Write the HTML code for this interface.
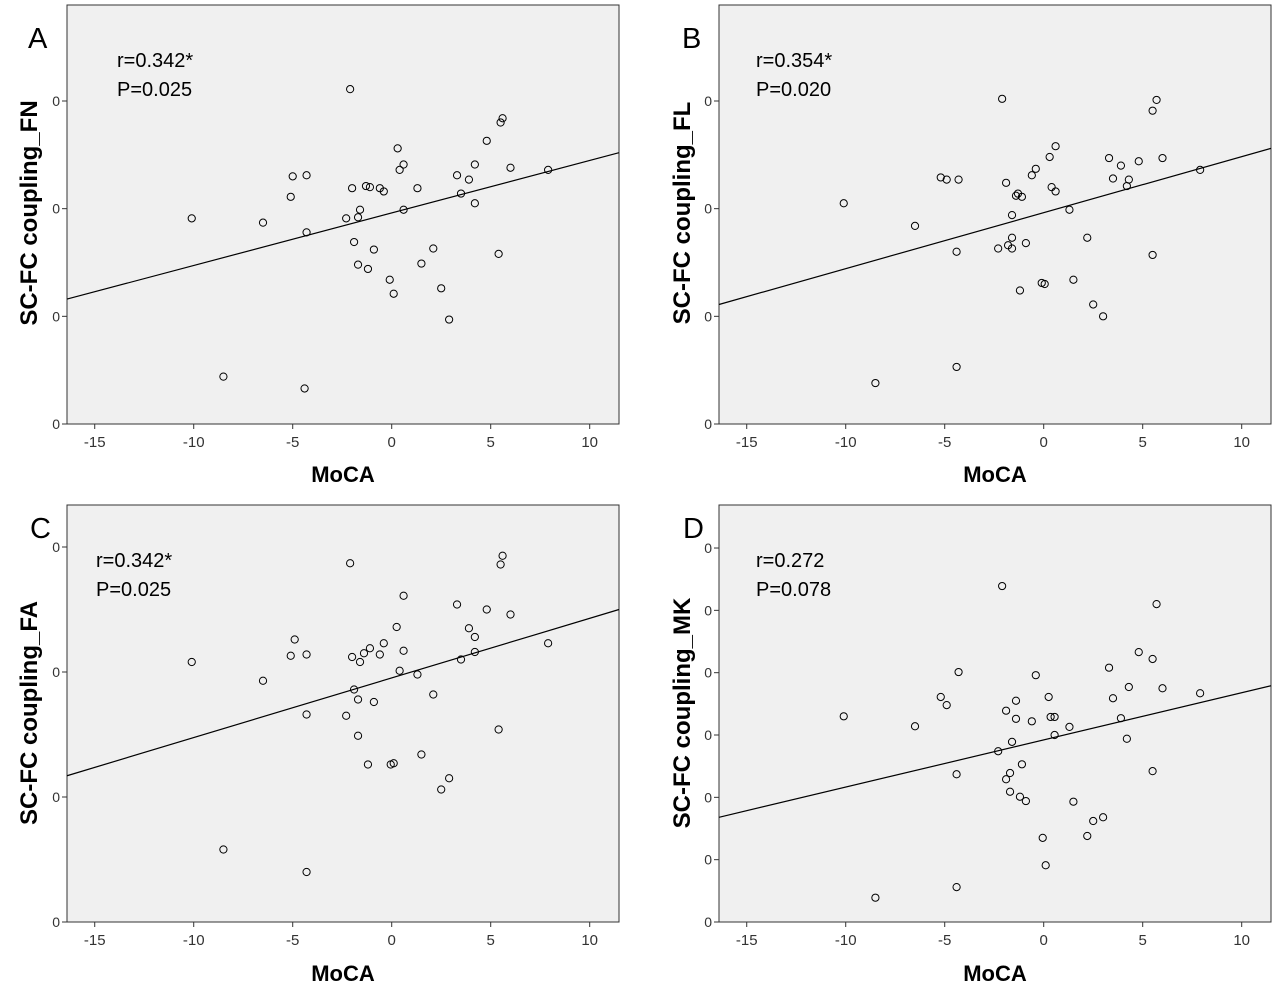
<!DOCTYPE html>
<html><head><meta charset="utf-8"><style>
html,body{margin:0;padding:0;background:#fff;}
svg{display:block;font-family:"Liberation Sans",sans-serif;}
</style></head><body>
<svg id="chart" width="1278" height="1000" viewBox="0 0 1278 1000"></svg>
<script>
// Panel A
const xA=[-2.1,-10.1,-8.5,-6.5,-5.1,-5.0,-4.3,-4.3,-4.4,-2.3,-2.0,-1.7,-1.6,-1.3,-1.1,-1.9,-1.7,-1.2,-0.9,-0.6,-0.4,-0.1,0.1,0.3,0.4,0.6,0.6,1.3,1.5,2.1,2.5,2.9,3.3,3.5,3.9,4.2,4.2,4.8,5.4,5.5,5.6,6.0,7.9];
const yA=[3.11,1.91,0.44,1.87,2.11,2.30,2.31,1.78,0.33,1.91,2.19,1.92,1.99,2.21,2.20,1.69,1.48,1.44,1.62,2.19,2.16,1.34,1.21,2.56,2.36,2.41,1.99,2.19,1.49,1.63,1.26,0.97,2.31,2.14,2.27,2.41,2.05,2.63,1.58,2.80,2.84,2.38,2.36];
const fitA=[1.16,2.52];
// Panel B
const xB=[-10.1,-8.5,-6.5,-5.2,-4.9,-4.3,-4.4,-4.4,-2.3,-2.1,-1.9,-1.8,-1.6,-1.6,-1.6,-1.4,-1.3,-1.1,-1.2,-0.9,-0.6,-0.4,-0.1,0.05,0.3,0.4,0.6,0.6,1.3,1.5,2.2,2.5,3.0,3.3,3.5,3.9,4.2,4.3,4.8,5.5,5.5,5.7,6.0,7.9];
const yB=[2.05,0.38,1.84,2.29,2.27,2.27,1.60,0.53,1.63,3.02,2.24,1.66,1.73,1.94,1.63,2.12,2.14,2.11,1.24,1.68,2.31,2.37,1.31,1.30,2.48,2.20,2.16,2.58,1.99,1.34,1.73,1.11,1.00,2.47,2.28,2.40,2.21,2.27,2.44,1.57,2.91,3.01,2.47,2.36];
const fitB=[1.11,2.56];
// Panel C
const xC=[-10.1,-8.5,-6.5,-5.1,-4.9,-4.3,-4.3,-4.3,-2.3,-2.1,-2.0,-1.9,-1.7,-1.7,-1.6,-1.4,-1.2,-1.1,-0.9,-0.6,-0.4,-0.05,0.1,0.25,0.4,0.6,0.6,1.3,1.5,2.1,2.5,2.9,3.3,3.5,3.9,4.2,4.2,4.8,5.4,5.5,5.6,6.0,7.9];
const yC=[2.08,0.58,1.93,2.13,2.26,2.14,1.66,0.40,1.65,2.87,2.12,1.86,1.78,1.49,2.08,2.15,1.26,2.19,1.76,2.14,2.23,1.26,1.27,2.36,2.01,2.61,2.17,1.98,1.34,1.82,1.06,1.15,2.54,2.10,2.35,2.28,2.16,2.50,1.54,2.86,2.93,2.46,2.23];
const fitC=[1.17,2.50];
// Panel D
const xD=[-10.1,-8.5,-6.5,-5.2,-4.9,-4.3,-4.4,-4.4,-2.3,-2.1,-1.9,-1.9,-1.7,-1.6,-1.7,-1.4,-1.4,-1.1,-1.2,-0.9,-0.6,-0.4,-0.05,0.1,0.25,0.35,0.55,0.55,1.3,1.5,2.2,2.5,3.0,3.3,3.5,3.9,4.2,4.3,4.8,5.5,5.5,5.7,6.0,7.9];
const yD=[3.30,0.39,3.14,3.61,3.48,4.01,2.37,0.56,2.74,5.39,3.39,2.29,2.39,2.89,2.09,3.55,3.26,2.53,2.01,1.94,3.22,3.96,1.35,0.91,3.61,3.29,3.29,3.00,3.13,1.93,1.38,1.62,1.68,4.08,3.59,3.27,2.94,3.77,4.33,2.42,4.22,5.10,3.75,3.67];
const fitD=[1.68,3.79];
const xTicks=[-15,-10,-5,0,5,10];
const yTickLabelA=["0","0","0","0"];
const yTickLabelD=["0","0","0","0","0","0","0"];
const xMin=-16.4, xMax=11.48;

const NS="http://www.w3.org/2000/svg";
const svg=document.getElementById('chart');
function mk(tag,attrs,parent){const e=document.createElementNS(NS,tag);for(const k in attrs)e.setAttribute(k,attrs[k]);(parent||svg).appendChild(e);return e;}

const panels=[
 {id:'a',letter:'A',L:67,R:619,T:5,B:424,yStep:107.67,yLab:yTickLabelA,xs:xA,ys:yA,fit:fitA,title:'SC-FC coupling_FN',r:'r=0.342*',p:'P=0.025',tx:117,ty:67,lx:28,ly:48,titleX:37,titleY:213,moY:482},
 {id:'b',letter:'B',L:719,R:1271,T:5,B:424,yStep:107.67,yLab:yTickLabelA,xs:xB,ys:yB,fit:fitB,title:'SC-FC coupling_FL',r:'r=0.354*',p:'P=0.020',tx:756,ty:67,lx:682,ly:48,titleX:690,titleY:213,moY:482},
 {id:'c',letter:'C',L:67,R:619,T:505,B:922,yStep:125,yLab:yTickLabelA,xs:xC,ys:yC,fit:fitC,title:'SC-FC coupling_FA',r:'r=0.342*',p:'P=0.025',tx:96,ty:567,lx:30,ly:538,titleX:37,titleY:713,moY:981},
 {id:'d',letter:'D',L:719,R:1271,T:505,B:922,yStep:62.33,yLab:yTickLabelD,xs:xD,ys:yD,fit:fitD,title:'SC-FC coupling_MK',r:'r=0.272',p:'P=0.078',tx:756,ty:567,lx:683,ly:538,titleX:690,titleY:713,moY:981}
];

panels.forEach(P=>{
 const g=mk('g',{});
 
 
 const xs=v=>P.L+(v-xMin)/(xMax-xMin)*(P.R-P.L);
 const ys=v=>P.B-v*P.yStep;
 const bg=mk('rect',{x:P.L,y:P.T,width:P.R-P.L,height:P.B-P.T,fill:'#f0f0f0',stroke:'#333','stroke-width':1},g);
 
 
 xTicks.forEach(t=>{
  const x=xs(t);
  mk('line',{x1:x,x2:x,y1:P.B,y2:P.B+5,stroke:'#333'},g);
  const tl=mk('text',{x:x,y:P.B+23,'text-anchor':'middle','font-size':15,fill:'#333'},g);
  tl.textContent=t;
  
  
 });
 P.yLab.forEach((lab,i)=>{
  const y=ys(i);
  mk('line',{x1:P.L-5,x2:P.L,y1:y,y2:y,stroke:'#333'},g);
  const tl=mk('text',{x:P.L-7,y:y+5,'text-anchor':'end','font-size':14,fill:'#333'},g);
  tl.textContent=lab;
  
  
 });
 const fl=mk('line',{x1:xs(xMin),y1:ys(P.fit[0]),x2:xs(xMax),y2:ys(P.fit[1]),stroke:'#000','stroke-width':1.2},g);
 
 
 P.xs.forEach((v,i)=>{
  const c=mk('circle',{cx:xs(v),cy:ys(P.ys[i]),r:3.6,fill:'none',stroke:'#000','stroke-width':1},g);
  
  
 });
 const let_=mk('text',{x:P.lx,y:P.ly,'font-size':29,fill:'#000'},g);
 let_.textContent=P.letter;
 
 
 const rt=mk('text',{x:P.tx,y:P.ty,'font-size':20,fill:'#000'},g);
 rt.textContent=P.r;
 
 
 const pt=mk('text',{x:P.tx,y:P.ty+29,'font-size':20,fill:'#000'},g);
 pt.textContent=P.p;
 
 
 const xt=mk('text',{x:(P.L+P.R)/2,y:P.moY,'text-anchor':'middle','font-size':22,'font-weight':'bold',fill:'#000'},g);
 xt.textContent='MoCA';
 
 
 const yt=mk('text',{x:P.titleX,y:P.titleY,'text-anchor':'middle','font-size':24,'font-weight':'bold',fill:'#000',transform:'rotate(-90 '+P.titleX+' '+P.titleY+')'},g);
 yt.textContent=P.title;
 
 
});
</script>
</body></html>
